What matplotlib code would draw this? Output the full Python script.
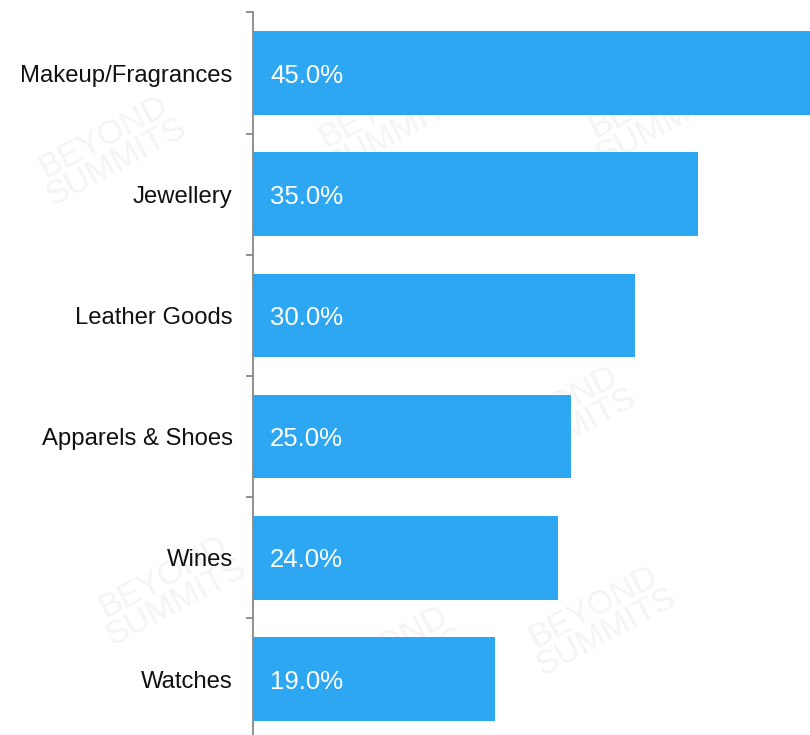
import matplotlib
matplotlib.use("Agg")
import matplotlib.pyplot as plt
import numpy as np

plt.rcParams['font.family'] = ['Liberation Sans', 'DejaVu Sans']

# share of purchases by category (%)
categories = ["Makeup/Fragrances", "Jewellery", "Leather Goods",
              "Apparels & Shoes", "Wines", "Watches"]
shares = [45.0, 35.0, 30.0, 25.0, 24.0, 19.0]

W, H = 810, 735
fig = plt.figure(figsize=(W / 100, H / 100), dpi=100)
fig.patch.set_facecolor("white")

# faint background watermark, kept behind the axes
for xc, yc in [(110, 150), (390, 120), (660, 110), (560, 420),
               (170, 590), (600, 620), (390, 660)]:
    fig.text(xc / W, 1 - yc / H, "BEYOND\nSUMMITS", fontsize=24,
             color="#f4f4f4", rotation=28, ha="center", va="center",
             linespacing=0.9, zorder=-5)

ax_left = 253.5 / W
ax_top = 12.4 / H
ax_h = 6 * 121.2 / H
ax = fig.add_axes([ax_left, 1 - ax_top - ax_h, 1 - ax_left, ax_h])
ax.patch.set_alpha(0)

y = np.arange(len(categories))
ax.barh(y, shares, height=0.69, color="#2ea7f3", zorder=2)
for yi, v in zip(y, shares):
    ax.text(1.3, yi, f"{v:.1f}%", color="white", fontsize=18.5,
            va="center_baseline", ha="left", zorder=3)

ax.set_xlim(0, 43.8)
ax.set_ylim(len(categories) - 0.5, -0.5)

ax.set_yticks(y)
ax.set_yticklabels(categories, fontsize=17.2, color="#111111")
ax.set_yticks(np.arange(len(categories) + 1) - 0.5, minor=True)
ax.tick_params(axis="y", which="major", length=0, pad=15)
ax.tick_params(axis="y", which="minor", length=5, width=1.3, color="#888888")
ax.set_xticks([])

for side in ["top", "right", "bottom"]:
    ax.spines[side].set_visible(False)
ax.spines["left"].set_color("#888888")
ax.spines["left"].set_linewidth(1.3)

fig.savefig("out.png", dpi=100)
